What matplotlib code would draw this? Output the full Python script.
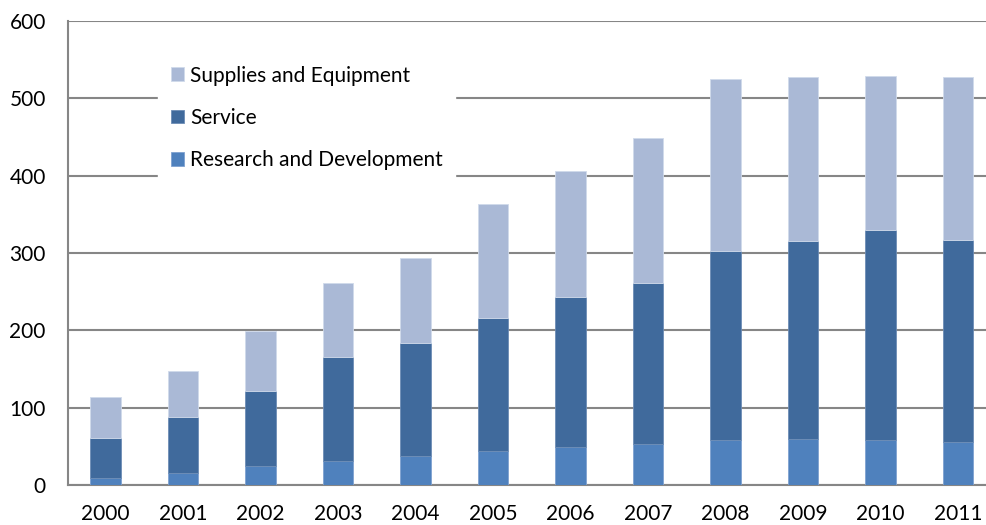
import matplotlib as mpl
mpl.use('Agg')
import matplotlib.pyplot as plt
import numpy as np

years = ['2000', '2001', '2002', '2003', '2004', '2005', '2006', '2007', '2008', '2009', '2010', '2011']
# values (top of each segment, cumulative)
rd = [9, 15, 25, 31, 37, 44, 49, 53, 58, 60, 58, 55]
service_top = [61, 88, 122, 165, 183, 216, 243, 261, 303, 315, 330, 317]
total = [114, 147, 199, 261, 294, 364, 406, 449, 525, 527, 529, 527]

service = [s - r for s, r in zip(service_top, rd)]
supplies = [t - s for t, s in zip(total, service_top)]

plt.rcParams['font.family'] = ['Lato', 'DejaVu Sans']

fig = plt.figure(figsize=(9.87, 5.25), dpi=100)
ax = fig.add_axes([68 / 987, 40 / 525, 1 - 68 / 987, 464 / 525])

x = np.arange(len(years))
w = 0.39
ax.bar(x, rd, w, color='#4F81BD', edgecolor='#7FA2D0', linewidth=0.6, label='Research and Development', zorder=3)
ax.bar(x, service, w, bottom=rd, color='#406A9C', edgecolor='#6D8DB6', linewidth=0.6, label='Service', zorder=3)
ax.bar(x, supplies, w, bottom=service_top, color='#AAB9D6', edgecolor='#D0DAEA', linewidth=0.6,
       label='Supplies and Equipment', zorder=3)

ax.set_ylim(0, 600)
ax.set_xlim(-0.484, 11.374)
ax.set_yticks(range(0, 601, 100))
ax.set_xticks(x)
ax.set_xticklabels(years)
ax.yaxis.grid(True, color='#868686', linewidth=1.5, zorder=0)
ax.set_axisbelow(True)
for s in ['top', 'right']:
    ax.spines[s].set_visible(False)
for s in ['left', 'bottom']:
    ax.spines[s].set_color('#868686')
    ax.spines[s].set_linewidth(1.5)
ax.tick_params(axis='both', length=0, labelsize=15, colors='black')
ax.tick_params(axis='y', pad=16)
ax.tick_params(axis='x', pad=14)

h, l = ax.get_legend_handles_labels()
leg = ax.legend(h[::-1], l[::-1], loc='upper left', bbox_to_anchor=(158 / 987, 1 - 53 / 525),
                bbox_transform=fig.transFigure, frameon=True, fancybox=False, framealpha=1,
                edgecolor='white', fontsize=15, handlelength=0.63, handleheight=0.63,
                handletextpad=0.3, labelspacing=1.07, borderpad=0.6, borderaxespad=0)
leg.set_zorder(5)

plt.savefig('out.png', dpi=100)
